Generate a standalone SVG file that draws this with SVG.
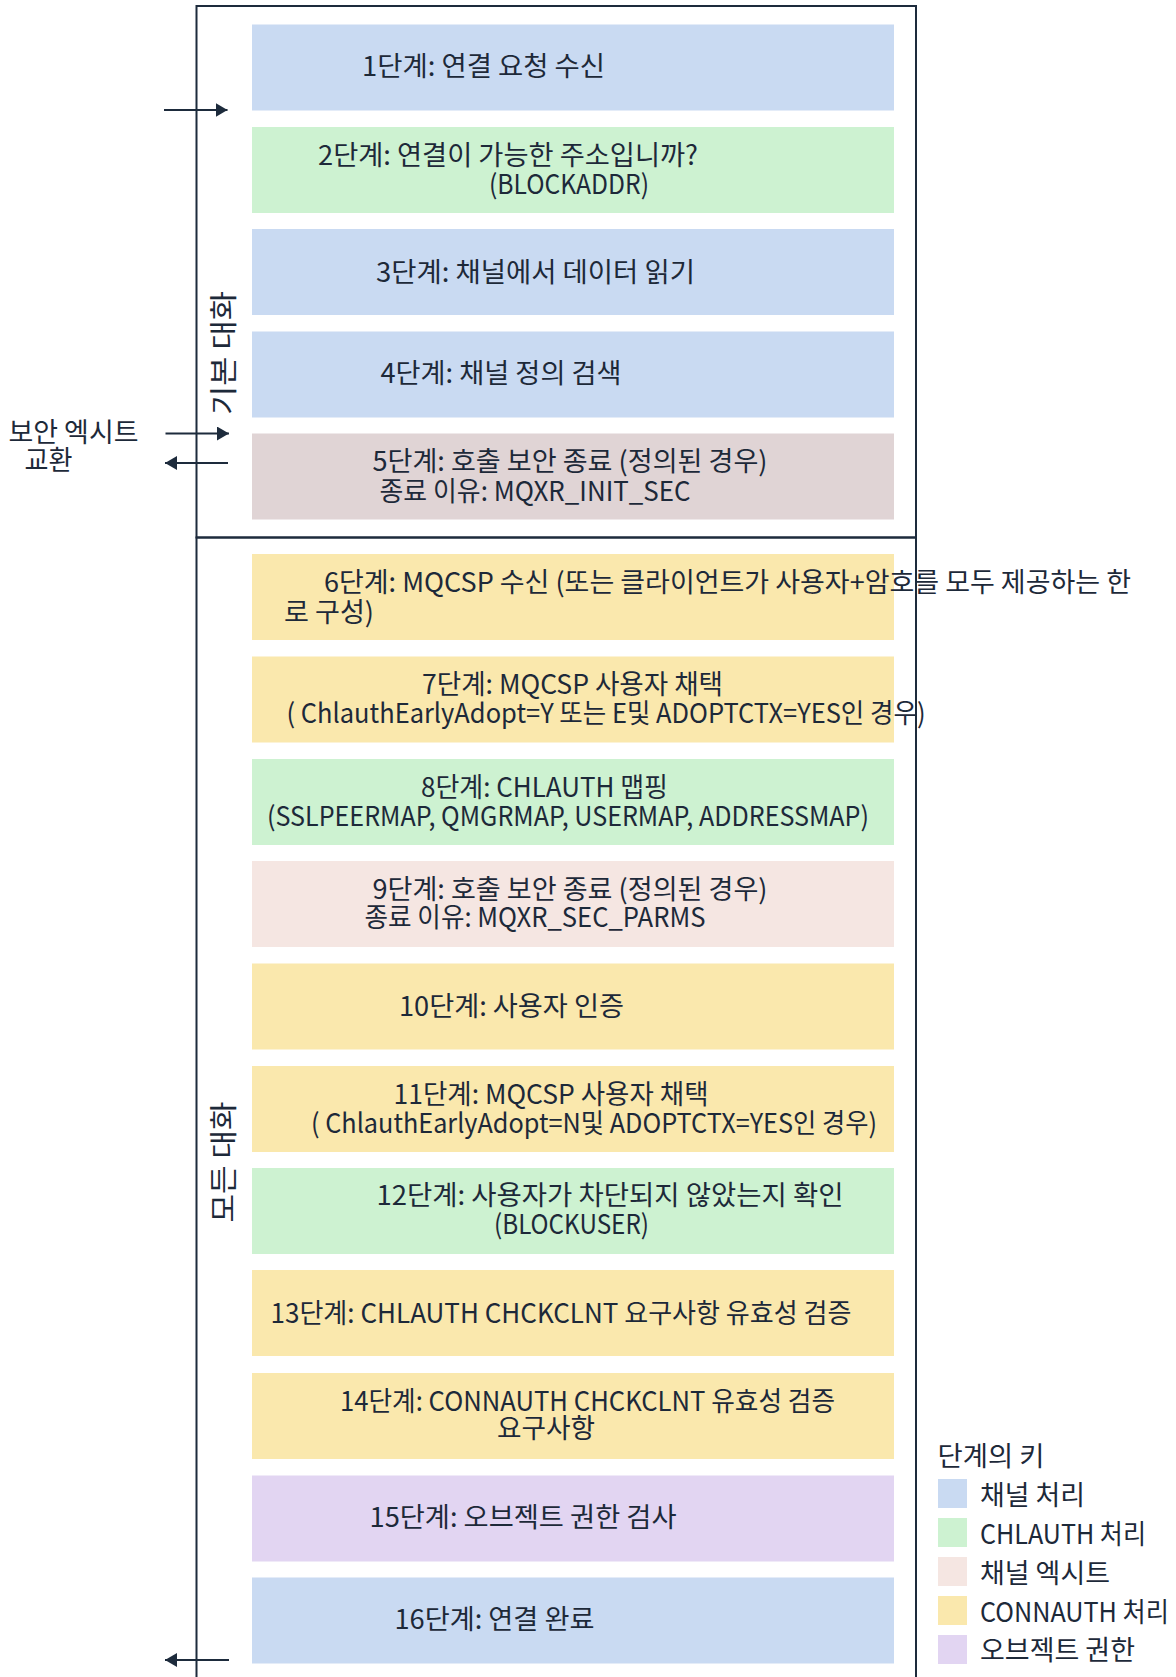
<svg xmlns="http://www.w3.org/2000/svg" width="1176" height="1677" viewBox="0 0 1176 1677">
<style>
text{font-family:"Noto Sans CJK KR","Noto Sans",sans-serif;font-size:27px;fill:#1d2939;dominant-baseline:central}
.c{text-anchor:middle}
.v{font-size:28px}
.frame{fill:none;stroke:#1d2b3c;stroke-width:2}
.arr{stroke:#1d2b3c;stroke-width:2;fill:none}
.blue{fill:#c9daf2}
.green{fill:#cdf2d1}
.mauve{fill:#e0d4d5}
.pink{fill:#f5e6e2}
.yellow{fill:#fae8ad}
.purple{fill:#e2d5f2}
</style>
<defs>
<marker id="ah" viewBox="0 0 12 14" refX="12" refY="7" markerWidth="12" markerHeight="14" markerUnits="userSpaceOnUse" orient="auto">
<path d="M0,0 L12,7 L0,14 z" fill="#1d2b3c"/>
</marker>
</defs>

<g id="step1"><rect class="blue" x="252" y="24.5" width="642" height="86"/><text class="c" x="483.5" y="64" textLength="243" lengthAdjust="spacingAndGlyphs">1단계: 연결 요청 수신</text></g>
<g id="step2"><rect class="green" x="252" y="127" width="642" height="86"/><text class="c" x="508" y="153.5" textLength="380" lengthAdjust="spacingAndGlyphs">2단계: 연결이 가능한 주소입니까?</text><text class="c" x="569" y="182.5" textLength="160" lengthAdjust="spacingAndGlyphs">(BLOCKADDR)</text></g>
<g id="step3"><rect class="blue" x="252" y="229" width="642" height="86"/><text class="c" x="535.5" y="270" textLength="319" lengthAdjust="spacingAndGlyphs">3단계: 채널에서 데이터 읽기</text></g>
<g id="step4"><rect class="blue" x="252" y="331.5" width="642" height="86"/><text class="c" x="501" y="371.5" textLength="241" lengthAdjust="spacingAndGlyphs">4단계: 채널 정의 검색</text></g>
<g id="step5"><rect class="mauve" x="252" y="433.5" width="642" height="86"/><text class="c" x="570" y="459.5" textLength="395" lengthAdjust="spacingAndGlyphs">5단계: 호출 보안 종료 (정의된 경우)</text><text class="c" x="535" y="489" textLength="311" lengthAdjust="spacingAndGlyphs">종료 이유: MQXR_INIT_SEC</text></g>
<g id="step6"><rect class="yellow" x="252" y="554" width="642" height="86"/><text class="c" x="727.5" y="580" textLength="807" lengthAdjust="spacingAndGlyphs">6단계: MQCSP 수신 (또는 클라이언트가 사용자+암호를 모두 제공하는 한</text><text class="c" x="329" y="610" textLength="90" lengthAdjust="spacingAndGlyphs">로 구성)</text></g>
<g id="step7"><rect class="yellow" x="252" y="656.5" width="642" height="86"/><text class="c" x="572.5" y="682.5" textLength="301" lengthAdjust="spacingAndGlyphs">7단계: MQCSP 사용자 채택</text><text class="c" x="606" y="711.5" textLength="639" lengthAdjust="spacingAndGlyphs">( ChlauthEarlyAdopt=Y 또는 E및 ADOPTCTX=YES인 경우)</text></g>
<g id="step8"><rect class="green" x="252" y="759" width="642" height="86"/><text class="c" x="544.5" y="785.5" textLength="247" lengthAdjust="spacingAndGlyphs">8단계: CHLAUTH 맵핑</text><text class="c" x="568" y="814.5" textLength="602" lengthAdjust="spacingAndGlyphs">(SSLPEERMAP, QMGRMAP, USERMAP, ADDRESSMAP)</text></g>
<g id="step9"><rect class="pink" x="252" y="861" width="642" height="86"/><text class="c" x="570" y="887" textLength="395" lengthAdjust="spacingAndGlyphs">9단계: 호출 보안 종료 (정의된 경우)</text><text class="c" x="535" y="915.5" textLength="341" lengthAdjust="spacingAndGlyphs">종료 이유: MQXR_SEC_PARMS</text></g>
<g id="step10"><rect class="yellow" x="252" y="963.5" width="642" height="86"/><text class="c" x="511.5" y="1004.5" textLength="225" lengthAdjust="spacingAndGlyphs">10단계: 사용자 인증</text></g>
<g id="step11"><rect class="yellow" x="252" y="1066" width="642" height="86"/><text class="c" x="551" y="1092" textLength="315" lengthAdjust="spacingAndGlyphs">11단계: MQCSP 사용자 채택</text><text class="c" x="594" y="1121" textLength="566" lengthAdjust="spacingAndGlyphs">( ChlauthEarlyAdopt=N및 ADOPTCTX=YES인 경우)</text></g>
<g id="step12"><rect class="green" x="252" y="1168" width="642" height="86"/><text class="c" x="610" y="1193.5" textLength="467" lengthAdjust="spacingAndGlyphs">12단계: 사용자가 차단되지 않았는지 확인</text><text class="c" x="571.5" y="1222.5" textLength="155" lengthAdjust="spacingAndGlyphs">(BLOCKUSER)</text></g>
<g id="step13"><rect class="yellow" x="252" y="1270" width="642" height="86"/><text class="c" x="561" y="1311.5" textLength="581" lengthAdjust="spacingAndGlyphs">13단계: CHLAUTH CHCKCLNT 요구사항 유효성 검증</text></g>
<g id="step14"><rect class="yellow" x="252" y="1373" width="642" height="86"/><text class="c" x="587.5" y="1399" textLength="495" lengthAdjust="spacingAndGlyphs">14단계: CONNAUTH CHCKCLNT 유효성 검증</text><text class="c" x="546" y="1426.5" textLength="98" lengthAdjust="spacingAndGlyphs">요구사항</text></g>
<g id="step15"><rect class="purple" x="252" y="1475.5" width="642" height="86"/><text class="c" x="523" y="1515.5" textLength="307" lengthAdjust="spacingAndGlyphs">15단계: 오브젝트 권한 검사</text></g>
<g id="step16"><rect class="blue" x="252" y="1577.5" width="642" height="86"/><text class="c" x="494.5" y="1617" textLength="200" lengthAdjust="spacingAndGlyphs">16단계: 연결 완료</text></g>

<g id="frame">
<rect class="frame" x="196.5" y="6" width="719.5" height="531.5"/>
<rect class="frame" x="196.5" y="537.5" width="719.5" height="1160"/>
<text class="c v" transform="translate(221.5,353) rotate(-90)" textLength="124" lengthAdjust="spacingAndGlyphs">기본 대화</text>
<text class="c v" transform="translate(221.5,1162) rotate(-90)" textLength="121" lengthAdjust="spacingAndGlyphs">모든 대화</text>
</g>

<g id="exit-label"><text x="8.5" y="430.5" textLength="130" lengthAdjust="spacingAndGlyphs">보안 엑시트</text><text x="24.5" y="458.5" textLength="48" lengthAdjust="spacingAndGlyphs">교환</text></g>

<g id="connectors">
<line class="arr" x1="164" y1="110" x2="227.5" y2="110" marker-end="url(#ah)"/>
<line class="arr" x1="165.5" y1="433.5" x2="229" y2="433.5" marker-end="url(#ah)"/>
<line class="arr" x1="228" y1="463" x2="165" y2="463" marker-end="url(#ah)"/>
<line class="arr" x1="229" y1="1660" x2="165" y2="1660" marker-end="url(#ah)"/>
</g>

<g id="legend">
<text x="937.5" y="1454" textLength="107" lengthAdjust="spacingAndGlyphs">단계의 키</text>
<rect class="blue" x="938" y="1479" width="29" height="29"/><text x="980" y="1493.5" textLength="105" lengthAdjust="spacingAndGlyphs">채널 처리</text>
<rect class="green" x="938" y="1518" width="29" height="29"/><text x="980" y="1532" textLength="166" lengthAdjust="spacingAndGlyphs">CHLAUTH 처리</text>
<rect class="pink" x="938" y="1557" width="29" height="29"/><text x="980" y="1571" textLength="130" lengthAdjust="spacingAndGlyphs">채널 엑시트</text>
<rect class="yellow" x="938" y="1596" width="29" height="29"/><text x="980" y="1610" textLength="189" lengthAdjust="spacingAndGlyphs">CONNAUTH 처리</text>
<rect class="purple" x="938" y="1635" width="29" height="29"/><text x="980" y="1648" textLength="155" lengthAdjust="spacingAndGlyphs">오브젝트 권한</text>
</g>
</svg>
